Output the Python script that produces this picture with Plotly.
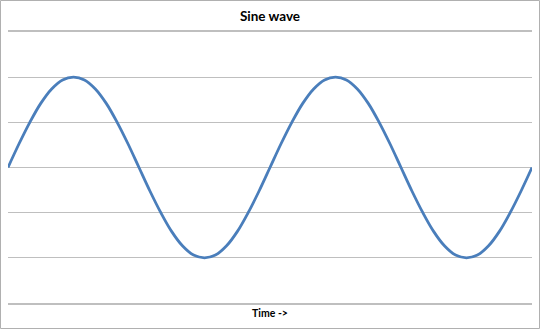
import plotly.graph_objects as go

# Angle in degrees (two full periods)
time_deg = [0, 15, 30, 45, 60, 75, 90, 105, 120, 135, 150, 165,
            180, 195, 210, 225, 240, 255, 270, 285, 300, 315, 330, 345,
            360, 375, 390, 405, 420, 435, 450, 465, 480, 495, 510, 525,
            540, 555, 570, 585, 600, 615, 630, 645, 660, 675, 690, 705, 720]
amplitude = [0.0, 0.26, 0.5, 0.71, 0.87, 0.97, 1.0, 0.97, 0.87, 0.71, 0.5, 0.26,
             0.0, -0.26, -0.5, -0.71, -0.87, -0.97, -1.0, -0.97, -0.87, -0.71, -0.5, -0.26,
             0.0, 0.26, 0.5, 0.71, 0.87, 0.97, 1.0, 0.97, 0.87, 0.71, 0.5, 0.26,
             0.0, -0.26, -0.5, -0.71, -0.87, -0.97, -1.0, -0.97, -0.87, -0.71, -0.5, -0.26, 0.0]

W, H = 540, 329
L, R, T, B = 8, 8, 32, 26
pw, ph = W - L - R, H - T - B

fig = go.Figure()
fig.add_trace(go.Scatter(x=time_deg, y=amplitude, mode="lines",
                         line=dict(color="#4a7ebb", width=2.8, shape="spline"),
                         hoverinfo="skip"))

fig.update_layout(
    width=W, height=H,
    margin=dict(l=L, r=R, t=T, b=B),
    paper_bgcolor="white", plot_bgcolor="white",
    showlegend=False,
    title=dict(text="<b>Sine wave</b>", x=0.5, xanchor="center", y=1 - 16 / H, yanchor="middle",
               font=dict(family="Lato, Open Sans, Arial", size=13.5, color="black")),
    font=dict(family="Lato, Open Sans, Arial", color="black"),
    xaxis=dict(range=[0, 720], showgrid=False, zeroline=False, showticklabels=False,
               ticks="", showline=True, mirror=True, linecolor="#bfbfbf", linewidth=1.5,
               title=dict(text="<b>Time -></b>", font=dict(size=10.5), standoff=6)),
    yaxis=dict(range=[-1.5, 1.5], dtick=0.5, showgrid=True, gridcolor="#bfbfbf", gridwidth=1.3,
               zeroline=False, showticklabels=False, ticks="", showline=False),
)
fig.add_shape(type="rect", xref="paper", yref="paper",
              x0=-(L - 0.5) / pw, x1=1 + (R - 0.5) / pw,
              y0=-(B - 0.5) / ph, y1=1 + (T - 0.5) / ph,
              line=dict(color="#b0b0b0", width=1), layer="below")
fig.write_html("out.html")
